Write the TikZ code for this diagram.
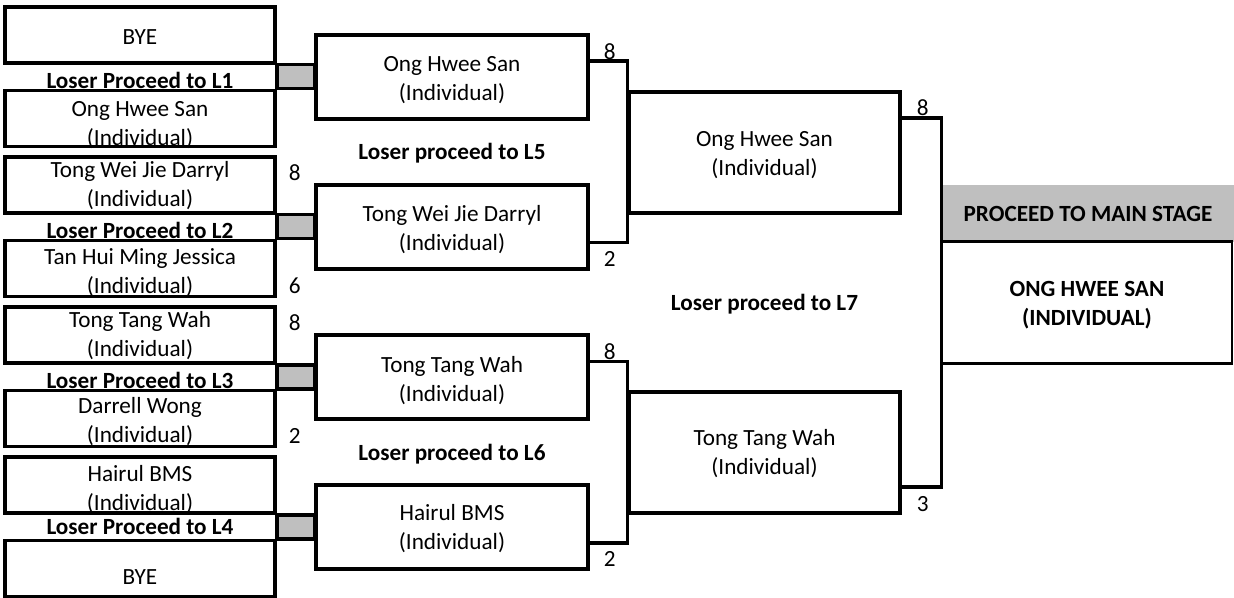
\documentclass[tikz,border=0pt]{standalone}
\usepackage{fontspec}
\setmainfont{Carlito}
\usetikzlibrary{calc,positioning}
\definecolor{cellGrey}{HTML}{BFBFBF}

\begin{document}
\begin{tikzpicture}[x=0.5pt, y=-0.5pt,
  every node/.style={font=\fontsize{11.6pt}{14.5pt}\selectfont},
  entrant/.style={draw, line width=1.75pt, minimum width=135pt, minimum height=28pt, inner sep=0pt},
  roundtwo/.style={draw, line width=1.75pt, minimum width=136pt, minimum height=42pt, inner sep=0pt},
  roundthree/.style={draw, line width=1.75pt, minimum width=135.5pt, minimum height=60.5pt, inner sep=0pt},
  boxtext/.style 2 args={label={[align=center, inner sep=0pt, yshift=#1]center:{#2}}},
  loser/.style={inner sep=0pt, font=\fontsize{11.6pt}{14.5pt}\selectfont\bfseries},
  score/.style={inner sep=0pt},
  bracket/.style={line width=1.75pt, draw=black},
]
\useasboundingbox (0,0) rectangle (1234,598);

% first round
\node[entrant, boxtext={-1pt}{BYE}] (t0) at (140,35) {};
\node[entrant, boxtext={-3.5pt}{Ong Hwee San\\(Individual)}] (b0) at (140,118.5) {};
\node[entrant, boxtext={-0.5pt}{Tong Wei Jie Darryl\\(Individual)}] (t1) at (140,185) {};
\node[entrant, boxtext={-2pt}{Tan Hui Ming Jessica\\(Individual)}] (b1) at (140,268.5) {};
\node[entrant, boxtext={-0.5pt}{Tong Tang Wah\\(Individual)}] (t2) at (140,335) {};
\node[entrant, boxtext={-1.75pt}{Darrell Wong\\(Individual)}] (b2) at (140,418.5) {};
\node[entrant, boxtext={-2.5pt}{Hairul BMS\\(Individual)}] (t3) at (140,485) {};
\node[entrant, boxtext={-4.5pt}{BYE}] (b3) at (140,568.5) {};

% second round
\node[roundtwo, boxtext={-1.5pt}{Ong Hwee San\\(Individual)}] (r2a) at (452,77) {};
\node[roundtwo, boxtext={-1.5pt}{Tong Wei Jie Darryl\\(Individual)}] (r2b) at (452,227) {};
\node[roundtwo, boxtext={-1.75pt}{Tong Tang Wah\\(Individual)}] (r2c) at (452,377) {};
\node[roundtwo, boxtext={-1pt}{Hairul BMS\\(Individual)}] (r2d) at (452,527) {};

% third round
\node[roundthree, boxtext={-1.25pt}{Ong Hwee San\\(Individual)}] (r3a) at (764.5,152.5) {};
\node[roundthree, boxtext={-0.75pt}{Tong Tang Wah\\(Individual)}] (r3b) at (764.5,452.5) {};

% grey cells between pairs and loser notes
\foreach \k/\r in {0/r2a,1/r2b,2/r2c,3/r2d} {
  \filldraw[bracket, fill=cellGrey] (t\k.south east) rectangle (\r.west |- b\k.north);
}
\node[loser, yshift=-2pt] (lose1) at ($(t0.south)!0.5!(b0.north)$) {Loser Proceed to L1};
\node[loser, yshift=-2pt] (lose2) at ($(t1.south)!0.5!(b1.north)$) {Loser Proceed to L2};
\node[loser, yshift=-2pt] (lose3) at ($(t2.south)!0.5!(b2.north)$) {Loser Proceed to L3};
\node[loser] (lose4) at ($(t3.south)!0.5!(b3.north)$) {Loser Proceed to L4};
\node[loser, yshift=-0.5pt] (lose5) at ($(r2a.south)!0.5!(r2b.north)$) {Loser proceed to L5};
\node[loser, yshift=-1pt] (lose6) at ($(r2c.south)!0.5!(r2d.north)$) {Loser proceed to L6};
\node[loser, yshift=-1pt] (lose7) at ($(r3a.south)!0.5!(r3b.north)$) {Loser proceed to L7};

% final
\node[fill=cellGrey, minimum width=146pt, minimum height=28.5pt, inner sep=0pt, font=\fontsize{11.6pt}{14.5pt}\selectfont\bfseries] (stage) at (1088,213.5) {PROCEED TO MAIN STAGE};
\node[draw, line width=0.6pt, minimum width=145pt, minimum height=60.5pt, inner sep=0pt,
  label={[align=center, inner sep=0pt, yshift=-1.5pt, font=\fontsize{11.6pt}{14.5pt}\selectfont\bfseries]center:{ONG HWEE SAN\\(INDIVIDUAL)}}] (champ) at (1087,302.5) {};
\draw[bracket] (champ.north west) -- (champ.north east);
\draw[bracket] (champ.south west) -- (champ.south east);

% brackets
\coordinate (j2a) at ([yshift=-14pt]r2a.north east);
\coordinate (j2b) at ([yshift=14pt]r2b.south east);
\coordinate (j2c) at ([yshift=-14pt]r2c.north east);
\coordinate (j2d) at ([yshift=14pt]r2d.south east);
\coordinate (j3a) at ([yshift=-14pt]r3a.north east);
\coordinate (j3b) at ([yshift=14pt]r3b.south east);
\draw[bracket] (j2a) -| (r3a.west |- j2b) -- (j2b);
\draw[bracket] (j2c) -| (r3b.west |- j2d) -- (j2d);
\draw[bracket] (j3a) -| (champ.west |- j3b) -- (j3b);

% scores
\node[score] (s1) at ([xshift=9pt,yshift=-8.5pt]t1.north east) {8};
\node[score] (s2) at ([xshift=9pt,yshift=6pt]b1.south east) {6};
\node[score] (s3) at ([xshift=9pt,yshift=-8.5pt]t2.north east) {8};
\node[score] (s4) at ([xshift=9pt,yshift=6pt]b2.south east) {2};
\node[score] (s5) at ([xshift=10pt,yshift=-9pt]r2a.north east) {8};
\node[score] (s6) at ([xshift=10pt,yshift=6pt]r2b.south east) {2};
\node[score] (s7) at ([xshift=10pt,yshift=-9pt]r2c.north east) {8};
\node[score] (s8) at ([xshift=10pt,yshift=6pt]r2d.south east) {2};
\node[score] (s9) at ([xshift=10.5pt,yshift=-8.5pt]r3a.north east) {8};
\node[score] (s10) at ([xshift=10.5pt,yshift=5.5pt]r3b.south east) {3};
\end{tikzpicture}
\end{document}
